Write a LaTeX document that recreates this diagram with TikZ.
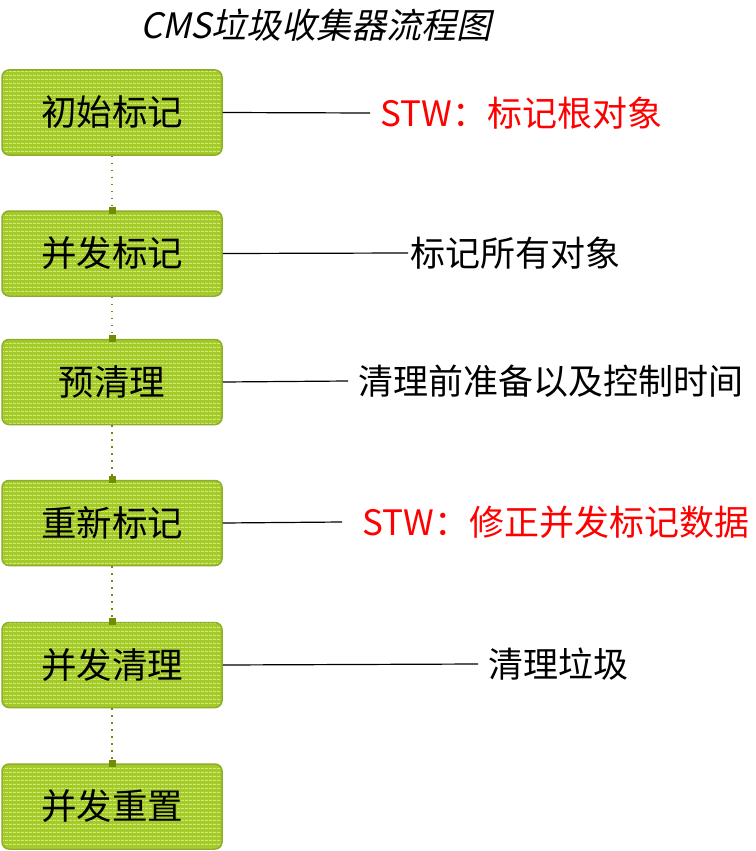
\documentclass[tikz,border=0pt]{standalone}
\usepackage{fontspec}
\setmainfont{Noto Sans CJK SC}
\newfontfamily\titlefont[FakeSlant=0.22]{Noto Sans CJK SC}
\usetikzlibrary{arrows.meta,patterns.meta}
\definecolor{stagefill}{HTML}{A3C92A}
\definecolor{stageline}{HTML}{CFEB6A}
\definecolor{stagedraw}{HTML}{8CAE28}
\definecolor{linkcol}{HTML}{6E8F05}
\tikzset{
	stage/.style={draw=stagedraw, line width=1.5pt, rounded corners=7pt,
		minimum width=220pt, minimum height=85pt, inner sep=0pt,
		preaction={fill=stagefill},
		pattern={Lines[angle=0,distance=4pt,line width=1.1pt]}, pattern color=stageline,
		font=\fontsize{35.5}{40}\selectfont},
	note/.style={anchor=west, inner sep=0pt, font=\fontsize{35}{40}\selectfont},
	link/.style={draw=linkcol, line width=1.6pt, dash pattern=on 1.6pt off 5.4pt,
		-{Square[length=7pt,width=7pt,line width=0pt]}, shorten >=-3.5pt},
	tie/.style={line width=1.2pt},
}
\begin{document}
\begin{tikzpicture}[x=1pt, y=-1pt, line join=round]
\useasboundingbox (0,0) rectangle (755,851);
\node (title) at (316,25) {\titlefont\fontsize{35}{40}\selectfont CMS垃圾收集器流程图};
% các bước
\node[stage] (s1) at (112,112.5) {初始标记};
\node[stage] (s2) at (112,253.5) {并发标记};
\node[stage] (s3) at (112,382) {预清理};
\node[stage] (s4) at (112,523) {重新标记};
\node[stage] (s5) at (112,665) {并发清理};
\node[stage] (s6) at (112,806.5) {并发重置};
\draw[link] (s1.south) -- (s2.north);
\draw[link] (s2.south) -- (s3.north);
\draw[link] (s3.south) -- (s4.north);
\draw[link] (s4.south) -- (s5.north);
\draw[link] (s5.south) -- (s6.north);
% ghi chú
\node[note, red] (n1) at (380,113) {STW：标记根对象};
\node[note] (n2) at (410,253) {标记所有对象};
\node[note] (n3) at (358,381) {清理前准备以及控制时间};
\node[note, red] (n4) at (362,522) {STW：修正并发标记数据};
\node[note] (n5) at (488,664) {清理垃圾};
\draw[tie] (s1.east) -- ([xshift=-10pt]n1.west);
\draw[tie] (s2.east) -- ([xshift=-2pt]n2.west);
\draw[tie] (s3.east) -- ([xshift=-10pt]n3.west);
\draw[tie] (s4.east) -- ([xshift=-20pt]n4.west);
\draw[tie] (s5.east) -- ([xshift=-10pt]n5.west);
\end{tikzpicture}
\end{document}
